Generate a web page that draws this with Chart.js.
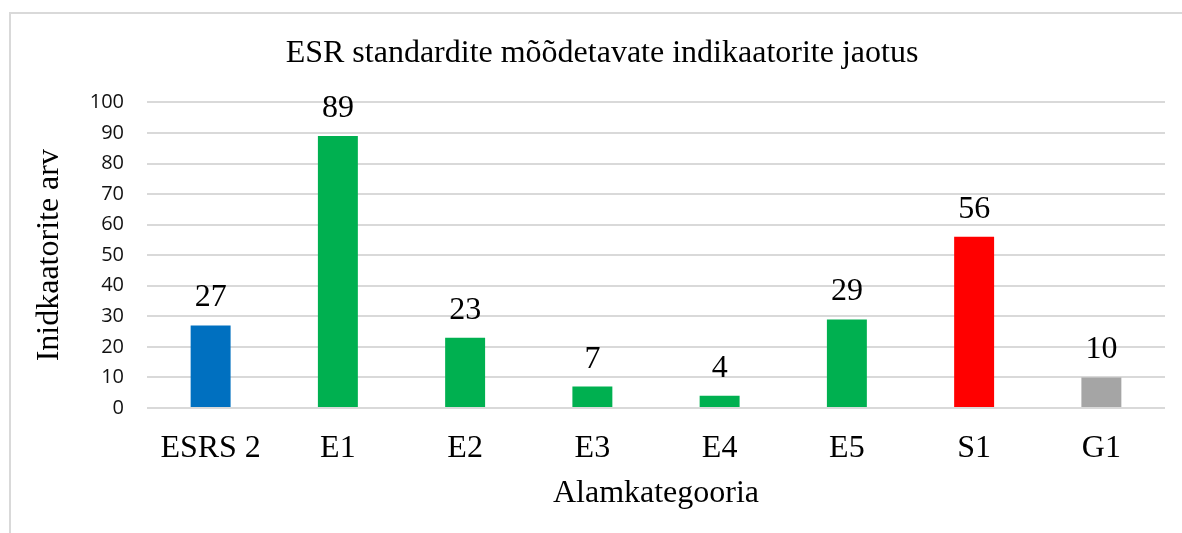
<!DOCTYPE html>
<html>
<head>
<meta charset="utf-8">
<script src="https://cdn.jsdelivr.net/npm/chart.js@4.4.0/dist/chart.umd.min.js"></script>
<style>
  html, body { margin: 0; padding: 0; background: #fff; overflow: hidden; }
  #frame { position: absolute; left: 9px; top: 12px; width: 1300px; height: 600px;
           border-left: 2px solid #d9d9d9; border-top: 2px solid #d9d9d9; }
  #chart { position: absolute; left: 0; top: 0; }
</style>
</head>
<body>
<div id="frame"></div>
<canvas id="chart" width="1182" height="533"></canvas>
<script>
// chart data
var categories = ['ESRS 2', 'E1', 'E2', 'E3', 'E4', 'E5', 'S1', 'G1'];
var counts = [27, 89, 23, 7, 4, 29, 56, 10];
var barColors = ['#0070C0', '#00B050', '#00B050', '#00B050', '#00B050', '#00B050', '#FF0000', '#A5A5A5'];
var yTicks = [0, 10, 20, 30, 40, 50, 60, 70, 80, 90, 100];

var serif = '"Liberation Serif", "Times New Roman", serif';

// value labels above bars
var barLabels = {
  id: 'barLabels',
  afterDatasetsDraw: function(chart) {
    var ctx = chart.ctx;
    var meta = chart.getDatasetMeta(0);
    ctx.save();
    ctx.font = '32px ' + serif;
    ctx.fillStyle = '#000';
    ctx.textAlign = 'center';
    ctx.textBaseline = 'alphabetic';
    meta.data.forEach(function(bar, i) {
      ctx.fillText(String(counts[i]), bar.x, bar.y - 19);
    });
    ctx.restore();
  }
};

new Chart(document.getElementById('chart'), {
  type: 'bar',
  data: {
    labels: categories,
    datasets: [{
      data: counts,
      backgroundColor: barColors,
      borderWidth: 0,
      categoryPercentage: 1,
      barPercentage: 0.314
    }]
  },
  options: {
    responsive: false,
    animation: false,
    // left padding shifts the centred title to where it sits in the original
    layout: { padding: { left: 39, right: 17, top: 0, bottom: 0 } },
    plugins: {
      legend: { display: false },
      tooltip: { enabled: false },
      title: {
        display: true,
        text: 'ESR standardite mõõdetavate indikaatorite jaotus',
        color: '#000',
        font: { family: serif, size: 32, weight: 'normal' },
        padding: { top: 34, bottom: 30 }
      }
    },
    scales: {
      x: {
        grid: { display: false },
        border: { display: false },
        ticks: {
          color: '#000',
          font: { family: serif, size: 32 },
          padding: 13,
          maxRotation: 0
        },
        title: {
          display: true,
          text: 'Alamkategooria',
          color: '#000',
          font: { family: serif, size: 32 },
          padding: { top: 0, bottom: 20 }
        },
        afterFit: function(scale) { scale.height = 125; }
      },
      y: {
        min: 0,
        max: 100,
        afterBuildTicks: function(scale) {
          scale.ticks = yTicks.map(function(v) { return { value: v }; });
        },
        grid: { color: '#d9d9d9', lineWidth: 2, drawTicks: false },
        border: { display: false },
        ticks: {
          color: '#111',
          font: { family: '"Open Sans", sans-serif', size: 20 },
          padding: 23
        },
        title: {
          display: true,
          text: 'Inidkaatorite arv',
          color: '#000',
          font: { family: serif, size: 32 },
          padding: { top: -9, bottom: 0 }
        },
        afterFit: function(scale) { scale.width = 108; }
      }
    }
  },
  plugins: [barLabels]
});
</script>
</body>
</html>
